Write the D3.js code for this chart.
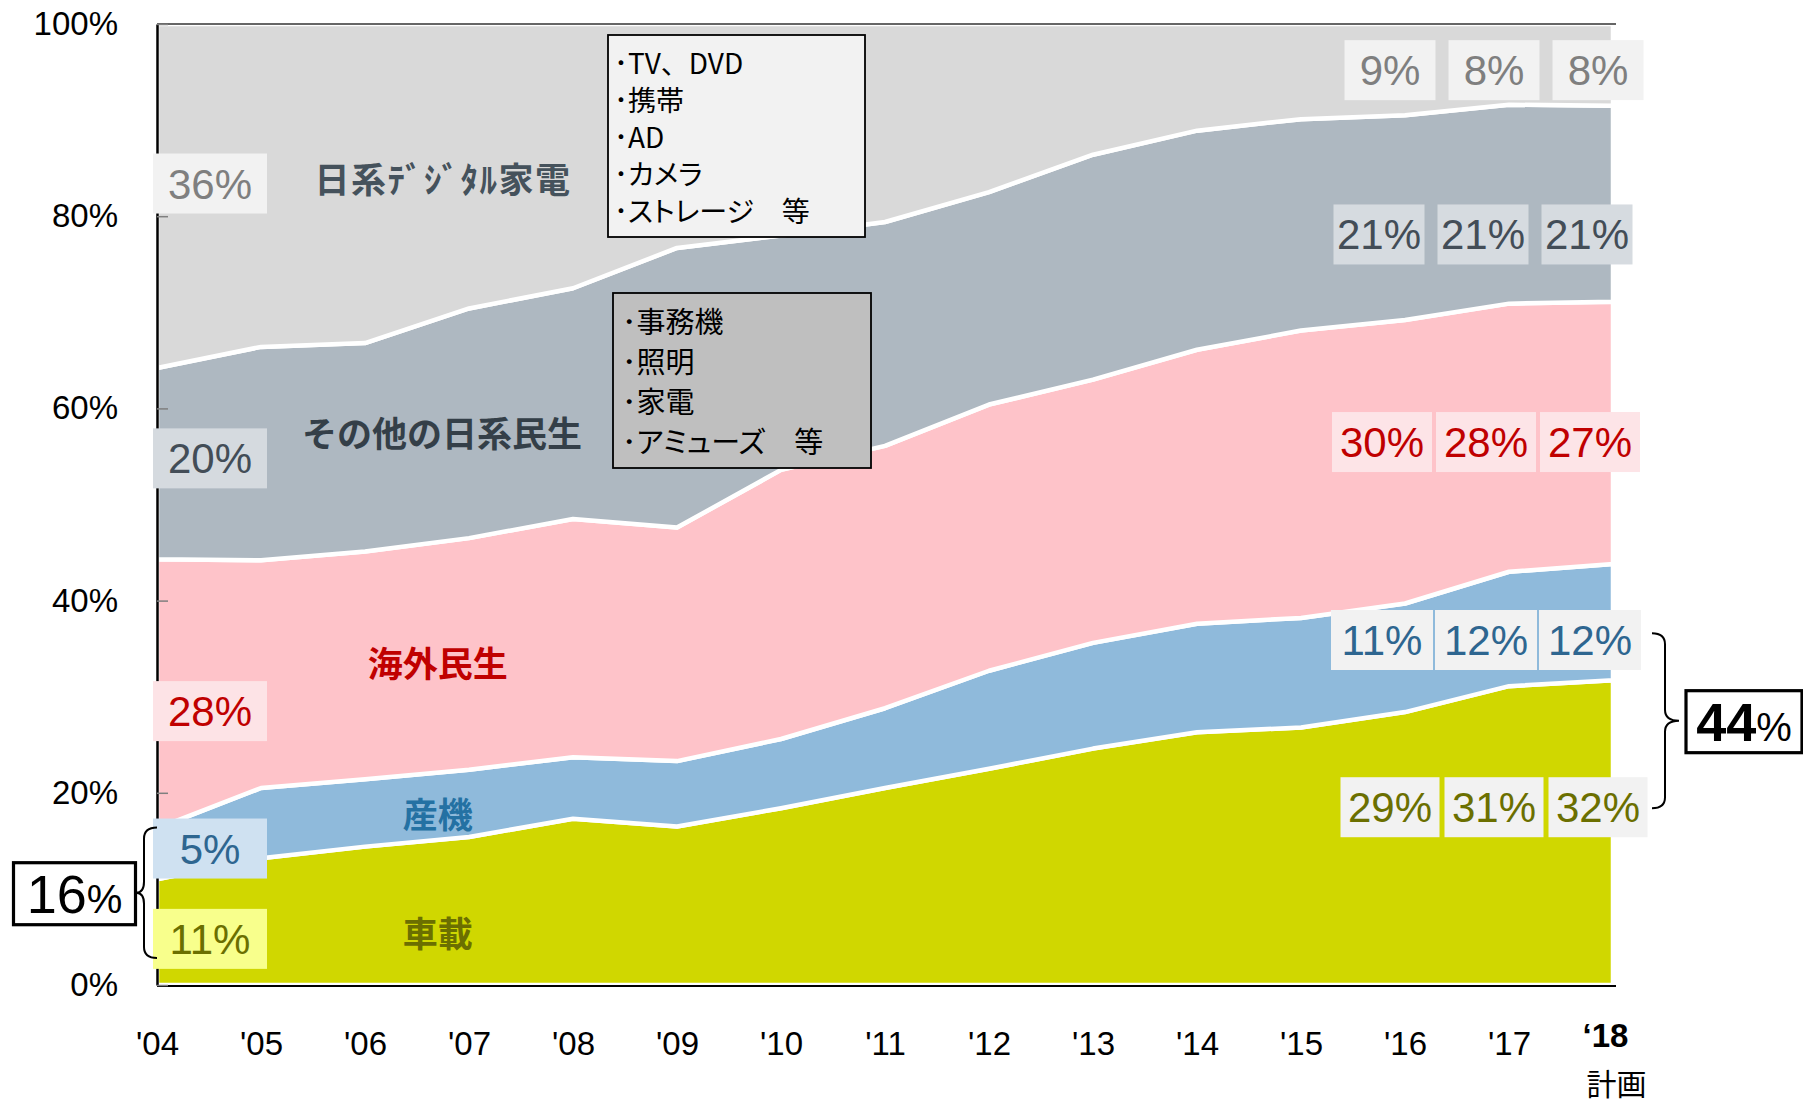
<!DOCTYPE html>
<html lang="ja">
<head>
<meta charset="utf-8">
<title>用途別構成比</title>
<script src="https://cdn.jsdelivr.net/npm/d3@7"></script>
<style>
body { margin: 0; background: #fff; }
text { font-family: "Liberation Sans", Arial, sans-serif; }
.jp { font-family: "Noto Sans CJK JP", "Noto Sans", sans-serif; }
.items { font-feature-settings: "palt"; }
</style>
</head>
<body>
<svg id="chart" width="1803" height="1106"></svg>
<script>
// data (share of total, %)
const years = [2004, 2005, 2006, 2007, 2008, 2009, 2010, 2011, 2012, 2013, 2014, 2015, 2016, 2017, 2018];
const yearLabels = ["'04", "'05", "'06", "'07", "'08", "'09", "'10", "'11", "'12", "'13", "'14", "'15", "'16", "'17", "‘18"];
const yTicks = [0, 20, 40, 60, 80, 100];

const keys = ["car", "industrial", "overseas", "otherJp", "digitalJp"];
const seriesNames = ["車載", "産機", "海外民生", "その他の日系民生", "日系ﾃﾞｼﾞﾀﾙ家電"];

const carShare        = [11.0, 13.2, 14.4, 15.4, 17.3, 16.5, 18.4, 20.5, 22.5, 24.6, 26.3, 26.8, 28.4, 31.1, 31.7];
const industrialShare = [5.3, 7.3, 7.0, 7.0, 6.4, 6.8, 7.2, 8.3, 10.2, 11.0, 11.3, 11.4, 11.3, 11.9, 12.1];
const overseasShare   = [28.0, 23.7, 23.7, 24.1, 24.8, 24.3, 28.0, 27.3, 27.7, 27.4, 28.5, 29.9, 29.5, 27.9, 27.3];
const otherJpShare    = [19.9, 22.2, 21.7, 23.9, 24.0, 29.1, 24.4, 23.3, 22.1, 23.4, 22.8, 22.0, 21.3, 20.7, 20.4];
const digitalJpShare  = [35.8, 33.6, 33.2, 29.6, 27.5, 23.3, 22.0, 20.6, 17.5, 13.6, 11.1, 9.9, 9.5, 8.4, 8.5];

// value labels: first year on the left, last three years on the right
const firstYearLabels = ["11%", "5%", "28%", "20%", "36%"];
const lastYearsLabels = [
    ["29%", "31%", "32%"],
    ["11%", "12%", "12%"],
    ["30%", "28%", "27%"],
    ["21%", "21%", "21%"],
    ["9%", "8%", "8%"]
];
const labelYears = [2016, 2017, 2018];
const totalLabels = ["16", "44"];

const digitalItems = ["･TV、DVD", "･携帯", "･AD", "･カメラ", "･ストレージ　等"];
const otherItems = ["･事務機", "･照明", "･家電", "･アミューズ　等"];

// styles, per series (same order as keys)
const areaColors = ["#d0d700", "#8fbadb", "#fec3c9", "#aeb8c1", "#d9d9d9"];
const nameColors = ["#6b6f00", "#2471a3", "#c00000", "#343f48", "#45525c"];
const labelColors = ["#6b6f00", "#2e6690", "#c00000", "#434d57", "#7f7f7f"];
const leftBoxFill = ["#f8ff8c", "#cfe1f1", "#fde3e6", "#d5dadf", "#f2f2f2"];
const rightBoxFill = ["#f2f2f2", "#f2f2f2", "#fde4e7", "#d6dbe0", "#f2f2f2"];

// layout of labels (in data units: year / percent)
const nameAt = [[2006.7, 5.6], [2006.7, 18.0], [2006.7, 33.7], [2006.74, 57.6], [2006.75, 84.0]];
const nameSpacing = [0, 0, 0, 0, 1.5];
const leftLabelY = [4.8, 14.2, 28.5, 54.8, 83.4];
const rightLabelY = [18.5, 35.9, 56.5, 78.1, 95.2];
const rightLabelDx = [-15, -23, -23, -26, -15];
const rightBoxW = [99, 102, 100, 91, 91];

const svg = d3.select("#chart");
const plot = { left: 157, right: 1613, top: 24, bottom: 985 };

const x = d3.scaleLinear().domain([2004, 2018]).range([plot.left, plot.right]);
const y = d3.scaleLinear().domain([0, 100]).range([plot.bottom, plot.top]);

const rows = years.map((yr, i) => ({
    year: yr,
    car: carShare[i],
    industrial: industrialShare[i],
    overseas: overseasShare[i],
    otherJp: otherJpShare[i],
    digitalJp: digitalJpShare[i]
}));

const stacked = d3.stack().keys(keys)(rows);

const area = d3.area()
    .x(d => x(d.data.year))
    .y0(d => y(d[0]))
    .y1(d => y(d[1]));

svg.append("g")
    .selectAll("path")
    .data(stacked)
    .join("path")
    .attr("d", area)
    .attr("fill", (d, i) => areaColors[i])
    .attr("stroke", "#fff")
    .attr("stroke-width", 4.5)
    .attr("stroke-linejoin", "round");

// frame lines
svg.append("line")
    .attr("x1", plot.left).attr("x2", plot.right + 3)
    .attr("y1", plot.top).attr("y2", plot.top)
    .attr("stroke", "#333").attr("stroke-width", 1.6);
svg.append("line")
    .attr("x1", plot.left).attr("x2", plot.right + 3)
    .attr("y1", plot.bottom + 1).attr("y2", plot.bottom + 1)
    .attr("stroke", "#000").attr("stroke-width", 1.8);

// y axis
const yAxis = svg.append("g")
    .attr("transform", `translate(${plot.left},0)`)
    .call(d3.axisLeft(y).tickValues(yTicks).tickFormat(d => d + "%")
        .tickSizeInner(-11).tickSizeOuter(0).tickPadding(39));
yAxis.select(".domain").attr("stroke", "#000").attr("stroke-width", 2.5);
yAxis.selectAll(".tick line").attr("stroke", "#7f7f7f").attr("stroke-width", 1.5);
yAxis.selectAll(".tick text")
    .attr("font-size", 33)
    .attr("fill", "#000")
    .attr("font-family", "'Liberation Sans', Arial, sans-serif");

// x axis
const xAxis = svg.append("g")
    .attr("transform", `translate(0,${plot.bottom + 1})`)
    .call(d3.axisBottom(x).tickValues(years).tickFormat((d, i) => yearLabels[i]).tickSize(0));
xAxis.select(".domain").remove();
xAxis.selectAll(".tick text")
    .attr("y", 69)
    .attr("dy", null)
    .attr("font-size", 33)
    .attr("fill", "#000")
    .attr("font-family", "'Liberation Sans', Arial, sans-serif");
const lastTick = xAxis.selectAll(".tick").filter(d => d === 2018);
lastTick.select("text")
    .attr("y", 61)
    .attr("dx", -8)
    .attr("font-weight", "bold");
lastTick.append("text")
    .attr("class", "jp")
    .attr("y", 96)
    .attr("dx", 3)
    .attr("dominant-baseline", "central")
    .attr("text-anchor", "middle")
    .attr("font-size", 30)
    .attr("fill", "#000")
    .text("計画");

// series names
svg.append("g")
    .selectAll("text")
    .data(seriesNames)
    .join("text")
    .attr("class", "jp")
    .attr("x", (d, i) => x(nameAt[i][0]))
    .attr("y", (d, i) => y(nameAt[i][1]))
    .attr("text-anchor", "middle")
    .attr("dominant-baseline", "central")
    .attr("font-size", 35)
    .attr("font-weight", "bold")
    .attr("letter-spacing", (d, i) => nameSpacing[i])
    .attr("fill", (d, i) => nameColors[i])
    .text(d => d);

// value label with background box
function valueLabel(g, cx, cy, w, h, fill, color, txt) {
    g.append("rect")
        .attr("x", cx - w / 2).attr("y", cy - h / 2)
        .attr("width", w).attr("height", h)
        .attr("fill", fill);
    g.append("text")
        .attr("x", cx).attr("y", cy + 15)
        .attr("text-anchor", "middle")
        .attr("font-size", 42)
        .attr("fill", color)
        .text(txt);
}

const labels = svg.append("g");
firstYearLabels.forEach((t, i) => {
    valueLabel(labels, x(2004) + 53, y(leftLabelY[i]), 114, 60, leftBoxFill[i], labelColors[i], t);
});
lastYearsLabels.forEach((row, i) => {
    row.forEach((t, j) => {
        valueLabel(labels, x(labelYears[j]) + rightLabelDx[i], y(rightLabelY[i]),
            rightBoxW[i], 60, rightBoxFill[i], labelColors[i], t);
    });
});

// item lists
function itemBox(x0, y0, w, h, fill, items, size, step, pad) {
    const g = svg.append("g");
    g.append("rect")
        .attr("x", x0).attr("y", y0).attr("width", w).attr("height", h)
        .attr("fill", fill).attr("stroke", "#000").attr("stroke-width", 1.8);
    g.selectAll("text")
        .data(items)
        .join("text")
        .attr("class", d => /[A-Z]/.test(d) ? "jp" : "jp items")
        .attr("x", x0 + pad)
        .attr("y", (d, i) => y0 + 27 + i * step)
        .attr("dominant-baseline", "central")
        .attr("font-size", size)
        .attr("fill", "#000")
        .text(d => d);
}
itemBox(608, 35, 257, 202, "#f2f2f2", digitalItems, 28, 37, 6);
itemBox(613, 293, 258, 175, "#bfbfbf", otherItems, 29, 40, 9);

// braces and totals
function brace(xEnd, xMid, xTip, y0, y1) {
    const ym = (y0 + y1) / 2, r = 11;
    const p = d3.path();
    p.moveTo(xEnd, y0);
    p.quadraticCurveTo(xMid, y0, xMid, y0 + r);
    p.lineTo(xMid, ym - r);
    p.quadraticCurveTo(xMid, ym, xTip, ym);
    p.quadraticCurveTo(xMid, ym, xMid, ym + r);
    p.lineTo(xMid, y1 - r);
    p.quadraticCurveTo(xMid, y1, xEnd, y1);
    svg.append("path")
        .attr("d", p.toString())
        .attr("fill", "none")
        .attr("stroke", "#000")
        .attr("stroke-width", 2);
}
brace(plot.left, plot.left - 13, plot.left - 21, y(16.4), y(2.8));
brace(1652, 1665, 1679, y(36.6), y(18.4));

function totalBox(cx, cy, w, h, num, bold) {
    const g = svg.append("g");
    g.append("rect")
        .attr("x", cx - w / 2).attr("y", cy - h / 2)
        .attr("width", w).attr("height", h)
        .attr("fill", "#fff").attr("stroke", "#000").attr("stroke-width", 3.2);
    const t = g.append("text")
        .attr("x", cx).attr("y", cy + 19)
        .attr("text-anchor", "middle");
    t.append("tspan")
        .attr("font-size", 54)
        .attr("font-weight", bold ? "bold" : "normal")
        .text(num);
    t.append("tspan")
        .attr("font-size", 40)
        .text("%");
}
totalBox(74.5, y(9.5), 122, 62, totalLabels[0], false);
totalBox(1744, y(27.4), 116, 62, totalLabels[1], true);
</script>
</body>
</html>
